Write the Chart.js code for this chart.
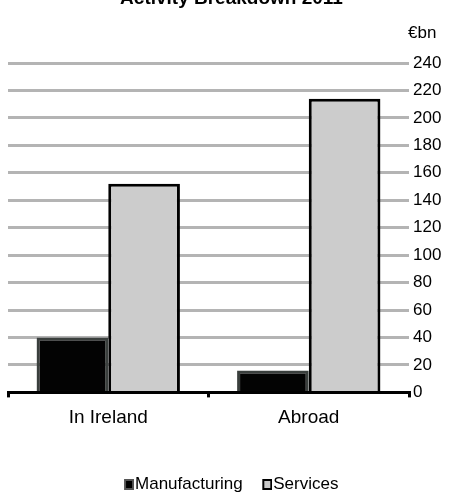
<!DOCTYPE html>
<html>
<head>
<meta charset="utf-8">
<script src="https://cdn.jsdelivr.net/npm/chart.js@4/dist/chart.umd.min.js"></script>
<style>
  html, body { margin: 0; padding: 0; background: #fff; overflow: hidden; }
  #wrap { position: relative; width: 463px; height: 497px; overflow: hidden; }
  #box { position: absolute; left: 0; top: -13px; width: 463px; height: 516px; }
</style>
</head>
<body>
<div id="wrap"><div id="box"><canvas id="c"></canvas></div></div>
<script>
// Activity breakdown, € billions
const categories = ['In Ireland', 'Abroad'];
const manufacturing = [40, 16];
const services = [152, 214];
const yTicks = [0, 20, 40, 60, 80, 100, 120, 140, 160, 180, 200, 220, 240];

const FONT = 'Liberation Sans, Arial, sans-serif';
const TICK_SIZE = 17;
const CAT_SIZE = 19;
const LEGEND_SIZE = 17;

const CANVAS_H = 516;
const PLOT_BOTTOM = 402;
const LEGEND_PAD = 20;

// legend swatch: a small square sitting at the right end of a wider transparent image,
// so the label text follows the square closely
function swatch(fill, stroke) {
  const c = document.createElement('canvas');
  c.width = 17; c.height = 11;
  const g = c.getContext('2d');
  g.fillStyle = stroke;
  g.fillRect(7, 0, 10, 11);
  g.fillStyle = fill;
  g.fillRect(9, 2, 6, 7);
  return c;
}

// unit label in the top-right corner
const unitLabel = {
  id: 'unitLabel',
  afterDraw(chart) {
    const ctx = chart.ctx;
    ctx.save();
    ctx.font = TICK_SIZE + 'px ' + FONT;
    ctx.fillStyle = '#000';
    ctx.textAlign = 'left';
    ctx.textBaseline = 'middle';
    ctx.fillText('€bn', 408, 46);
    ctx.restore();
  }
};

new Chart(document.getElementById('c'), {
  type: 'bar',
  data: {
    labels: categories,
    datasets: [
      {
        label: 'Manufacturing',
        data: manufacturing,
        backgroundColor: '#030303',
        borderColor: '#3a3f3d',
        borderWidth: 3,
        borderSkipped: 'start',
        pointStyle: swatch('#000000', '#555555')
      },
      {
        label: 'Services',
        data: services,
        backgroundColor: '#cccccc',
        borderColor: '#000000',
        borderWidth: 3,
        borderSkipped: 'start',
        pointStyle: swatch('#c8c8c8', '#000000')
      }
    ]
  },
  options: {
    responsive: true,
    maintainAspectRatio: false,
    animation: false,
    categoryPercentage: 0.715,
    barPercentage: 1,
    layout: { padding: { left: 8, right: 8, top: 0, bottom: 0 } },
    plugins: {
      title: {
        display: true,
        text: 'Activity Breakdown 2011',
        color: '#000',
        font: { family: FONT, size: 19, weight: 'bold' },
        padding: { top: 0, bottom: 53.2 }
      },
      legend: {
        position: 'bottom',
        labels: {
          color: '#000',
          font: { family: FONT, size: LEGEND_SIZE },
          usePointStyle: true,
          pointStyleWidth: 2,
          boxHeight: 11,
          padding: LEGEND_PAD
        }
      },
      tooltip: { enabled: false }
    },
    scales: {
      x: {
        grid: {
          display: true,
          drawOnChartArea: false,
          drawTicks: true,
          tickLength: 5,
          color: '#000',
          lineWidth: 3,
          offset: true
        },
        border: { display: true, color: '#000', width: 3 },
        ticks: {
          color: '#000',
          font: { family: FONT, size: CAT_SIZE },
          padding: 9
        },
        afterFit(scale) {
          scale.height = CANVAS_H - (LEGEND_SIZE * 1.2 + LEGEND_PAD + 10) - PLOT_BOTTOM;
        }
      },
      y: {
        position: 'right',
        min: 0,
        max: 240,
        afterBuildTicks(scale) { scale.ticks = yTicks.map(v => ({ value: v })); },
        grid: {
          color: '#b4b4b4',
          lineWidth: 3,
          drawTicks: false
        },
        border: { display: false },
        ticks: {
          color: '#000',
          font: { family: FONT, size: TICK_SIZE },
          padding: 4
        },
        afterFit(scale) { scale.width = 46; }
      }
    }
  },
  plugins: [unitLabel]
});
</script>
</body>
</html>
